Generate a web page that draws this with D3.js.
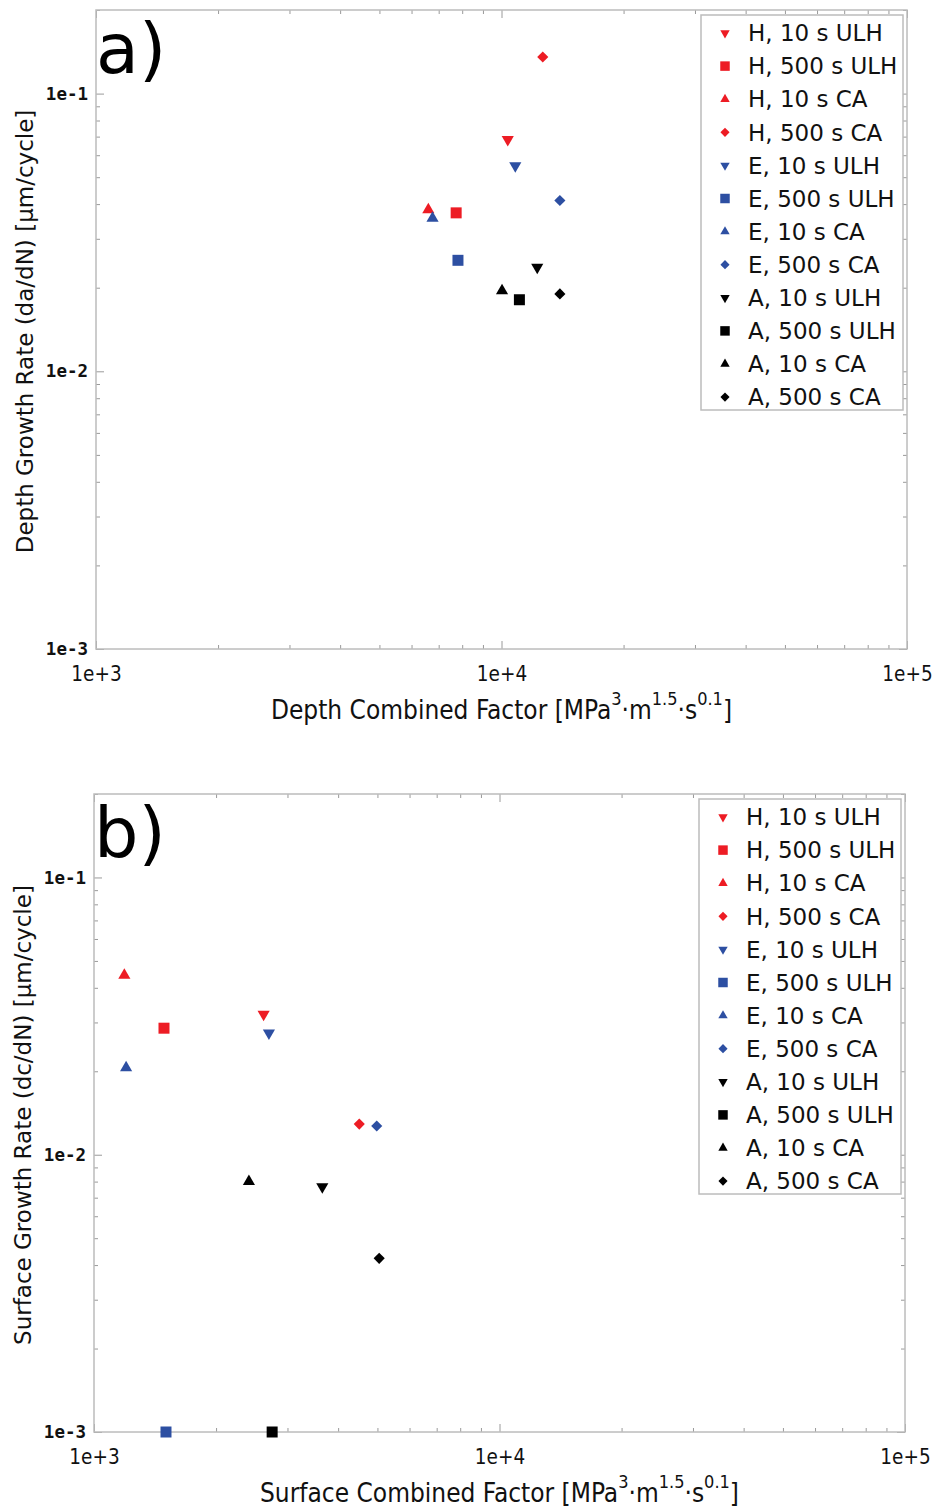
<!DOCTYPE html>
<html>
<head>
<meta charset="utf-8">
<script src="https://cdn.jsdelivr.net/npm/d3@7"></script>
<style>
  body { margin: 0; background: #fff; }
  svg { display: block; }
</style>
</head>
<body>
<div id="chart"></div>
<script>
//Series names, in legend order
var series = ["H, 10 s ULH", "H, 500 s ULH", "H, 10 s CA", "H, 500 s CA",
              "E, 10 s ULH", "E, 500 s ULH", "E, 10 s CA", "E, 500 s CA",
              "A, 10 s ULH", "A, 500 s ULH", "A, 10 s CA", "A, 500 s CA"];
var shapes = ["down", "square", "up", "diamond", "down", "square", "up", "diamond", "down", "square", "up", "diamond"];
var colours = ["#ed1c24", "#ed1c24", "#ed1c24", "#ed1c24",
               "#2d4fa2", "#2d4fa2", "#2d4fa2", "#2d4fa2",
               "#000000", "#000000", "#000000", "#000000"];

//Panel a) depth
var depthX = [10360, 7730, 6600, 12640, 10815, 7810, 6760, 13930, 12250, 11070, 10030, 13930];
var depthY = [0.0683, 0.0372, 0.0382, 0.1355, 0.0550, 0.0251, 0.0356, 0.0412, 0.0237, 0.0181, 0.0195, 0.0190];

//Panel b) surface
var surfX = [2620, 1488, 1188, 4510, 2700, 1505, 1200, 4980, 3656, 2750, 2410, 5050];
var surfY = [0.0321, 0.0286, 0.0444, 0.0129, 0.0275, 0.0010, 0.0206, 0.0127, 0.00766, 0.0010, 0.0080, 0.00423];

var xDomain = [1e3, 1e5];
var yDomain = [1e-3, 0.2];
var xLabels = [1e3, 1e4, 1e5];
var yLabels = [1e-3, 1e-2, 1e-1];

var width = 938, height = 1508;

var svg = d3.select("#chart")
    .append("svg")
    .attr("width", width)
    .attr("height", height);

//Marker path for a series
function marker(shape, big) {
    var sym, size;
    if (shape == "square") {
        sym = d3.symbolSquare; size = big ? 121 : 90;
    } else if (shape == "diamond") {
        sym = d3.symbolSquare; size = big ? 62 : 42;
    } else {
        sym = d3.symbolTriangle; size = big ? 64 : 38;
    }
    return d3.symbol().type(sym).size(size)();
}

function rotation(shape) {
    if (shape == "down") return " rotate(180)";
    if (shape == "diamond") return " rotate(45)";
    return "";
}

function isDecade(v) {
    var l = Math.log10(v);
    return Math.abs(l - Math.round(l)) < 1e-9;
}

var condensed = "'DejaVu Sans Condensed', 'DejaVu Sans'";

//Draw one panel
function panel(opts) {
    var g = svg.append("g");
    var x = d3.scaleLog().domain(xDomain).range([opts.left, opts.right]);
    var y = d3.scaleLog().domain(yDomain).range([opts.bottom, opts.top]);

    var xt = x.ticks();
    var yt = y.ticks().filter(function(d) { return d <= yDomain[1] + 1e-12; });

    //Ticks on all four sides, pointing in
    var axes = [
        [d3.axisBottom(x).tickValues(xt), "translate(0," + opts.bottom + ")"],
        [d3.axisTop(x).tickValues(xt), "translate(0," + opts.top + ")"],
        [d3.axisLeft(y).tickValues(yt), "translate(" + opts.left + ",0)"],
        [d3.axisRight(y).tickValues(yt), "translate(" + opts.right + ",0)"]
    ];
    axes.forEach(function(a, i) {
        var ax = g.append("g")
            .attr("transform", a[1])
            .call(a[0].tickSize(-4).tickFormat(""));
        ax.select(".domain").remove();
        ax.selectAll(".tick line")
            .attr("stroke", "#9a9a9a")
            .attr("stroke-width", 1);
        ax.selectAll(".tick")
            .filter(function(d) { return isDecade(d); })
            .select("line")
            .each(function() {
                var l = d3.select(this);
                if (i < 2) l.attr("y2", +l.attr("y2") * 2);
                else l.attr("x2", +l.attr("x2") * 2);
            });
    });

    //Frame
    g.append("rect")
        .attr("x", opts.left)
        .attr("y", opts.top)
        .attr("width", opts.right - opts.left)
        .attr("height", opts.bottom - opts.top)
        .attr("fill", "none")
        .attr("stroke", "#bcbcbc")
        .attr("stroke-width", 1.5);

    //Tick labels
    var xl = g.append("g")
        .attr("transform", "translate(0," + opts.bottom + ")")
        .call(d3.axisBottom(x).tickValues(xLabels).tickSize(0).tickPadding(17)
            .tickFormat(function(d) { return "1e+" + Math.round(Math.log10(d)); }));
    xl.select(".domain").remove();
    xl.selectAll("text")
        .attr("font-family", condensed)
        .attr("font-stretch", "condensed")
        .attr("font-size", 20.5)
        .attr("fill", "#111");

    var yl = g.append("g")
        .attr("transform", "translate(" + opts.left + ",0)")
        .call(d3.axisLeft(y).tickValues(yLabels).tickSize(0).tickPadding(8)
            .tickFormat(function(d) { return "1e-" + Math.round(-Math.log10(d)); }));
    yl.select(".domain").remove();
    yl.selectAll("text")
        .attr("font-family", "'DejaVu Sans Mono'")
        .attr("font-weight", "bold")
        .attr("font-size", 17.5)
        .attr("fill", "#111");

    //Axis titles
    var xt2 = g.append("text")
        .attr("x", (opts.left + opts.right) / 2)
        .attr("y", opts.bottom + 70)
        .attr("text-anchor", "middle")
        .attr("font-family", condensed)
        .attr("font-stretch", "condensed")
        .attr("font-size", 26)
        .attr("fill", "#111");
    xt2.append("tspan").text(opts.xTitle + " [MPa");
    xt2.append("tspan").attr("font-size", 18).attr("dy", -14).text("3");
    xt2.append("tspan").attr("dy", 14).text("\u00b7m");
    xt2.append("tspan").attr("font-size", 18).attr("dy", -14).text("1.5");
    xt2.append("tspan").attr("dy", 14).text("\u00b7s");
    xt2.append("tspan").attr("font-size", 18).attr("dy", -14).text("0.1");
    xt2.append("tspan").attr("dy", 14).text("]");

    g.append("text")
        .attr("transform", "translate(" + opts.yTitleX + "," + ((opts.top + opts.bottom) / 2 + 2) + ") rotate(-90)")
        .attr("text-anchor", "middle")
        .attr("font-family", "'DejaVu Sans'")
        .attr("font-size", 23)
        .attr("fill", "#111")
        .text(opts.yTitle);

    //Panel letter
    g.append("text")
        .attr("x", opts.left)
        .attr("y", opts.top + 63)
        .attr("font-family", "'DejaVu Sans'")
        .attr("font-size", 70)
        .attr("fill", "#000")
        .text(opts.letter);

    //Points
    g.append("g")
        .selectAll("path")
        .data(series)
        .enter()
        .append("path")
        .attr("d", function(d, i) { return marker(shapes[i], true); })
        .attr("transform", function(d, i) {
            return "translate(" + x(opts.xs[i]) + "," + y(opts.ys[i]) + ")" + rotation(shapes[i]);
        })
        .attr("fill", function(d, i) { return colours[i]; });

    //Legend
    var lx = opts.right - 206, ly = opts.top + 5;
    var legend = g.append("g").attr("transform", "translate(" + lx + "," + ly + ")");
    legend.append("rect")
        .attr("width", 202)
        .attr("height", 395)
        .attr("fill", "#fff")
        .attr("stroke", "#bcbcbc")
        .attr("stroke-width", 1.5);
    var rows = legend.selectAll("g.row")
        .data(series)
        .enter()
        .append("g")
        .attr("class", "row")
        .attr("transform", function(d, i) { return "translate(0," + (18 + i * 33.1) + ")"; });
    rows.append("path")
        .attr("d", function(d, i) { return marker(shapes[i], false); })
        .attr("transform", function(d, i) { return "translate(24,0)" + rotation(shapes[i]); })
        .attr("fill", function(d, i) { return colours[i]; });
    rows.append("text")
        .attr("x", 47)
        .attr("dy", "0.36em")
        .attr("font-family", "'DejaVu Sans'")
        .attr("font-size", 23)
        .attr("fill", "#111")
        .text(function(d) { return d; });
}

panel({
    left: 96, right: 907, top: 10, bottom: 649,
    xs: depthX, ys: depthY, letter: "a)",
    xTitle: "Depth Combined Factor",
    yTitle: "Depth Growth Rate (da/dN) [\u00b5m/cycle]",
    yTitleX: 33
});

panel({
    left: 94, right: 905, top: 794, bottom: 1432,
    xs: surfX, ys: surfY, letter: "b)",
    xTitle: "Surface Combined Factor",
    yTitle: "Surface Growth Rate (dc/dN) [\u00b5m/cycle]",
    yTitleX: 31
});
</script>
</body>
</html>
